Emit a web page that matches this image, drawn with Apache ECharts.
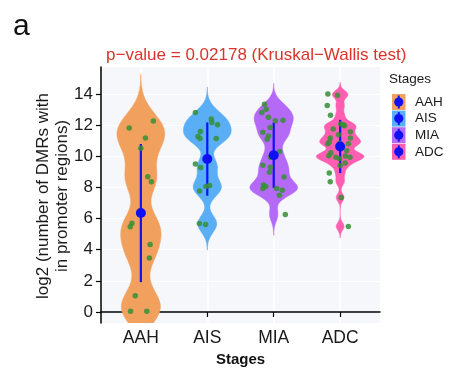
<!DOCTYPE html>
<html><head><meta charset="utf-8">
<script src="https://cdn.jsdelivr.net/npm/echarts@6/dist/echarts.min.js"></script>
<style>html,body{margin:0;padding:0;background:#fff}#c{width:459px;height:378px}</style>
</head><body><div id="c"></div>
<script>
const categories = ['AAH', 'AIS', 'MIA', 'ADC'];
const yTicks = [0, 2, 4, 6, 8, 10, 12, 14];
const titleText = 'p\u2212value = 0.02178 (Kruskal\u2212Wallis test)';

const aahValues = [11.82, 12.27, 11.19, 10.53, 8.69, 8.37, 5.71, 5.48, 4.34, 3.47, 1.05, 0.04, 0.04];
const aahJitter = [-0.175, 0.188, 0.069, 0.0, 0.104, 0.158, -0.134, -0.160, 0.139, 0.128, -0.085, -0.155, 0.090];
const aisValues = [12.82, 12.40, 12.18, 12.03, 11.60, 11.28, 11.15, 11.15, 9.52, 9.29, 8.13, 8.07, 7.77, 5.69, 5.63];
const aisJitter = [-0.179, 0.060, 0.069, 0.154, -0.104, -0.140, -0.110, 0.134, -0.179, -0.100, 0.034, -0.021, -0.115, -0.119, -0.025];
const miaValues = [13.36, 13.04, 12.82, 12.52, 12.29, 12.33, 11.86, 11.56, 11.32, 11.11, 10.31, 9.95, 9.44, 9.31, 8.99, 8.67, 8.16, 8.07, 7.94, 7.94, 7.83, 7.51, 6.27];
const miaJitter = [-0.139, -0.113, -0.179, -0.079, 0.025, 0.140, -0.054, -0.164, -0.079, -0.099, 0.090, -0.049, -0.164, -0.049, -0.064, 0.155, -0.154, -0.119, -0.164, 0.045, 0.130, 0.085, 0.175];
const adcValues = [14.02, 13.94, 13.27, 12.65, 12.09, 12.03, 11.98, 11.77, 11.58, 11.39, 11.19, 11.19, 10.81, 10.92, 10.81, 10.85, 10.36, 10.23, 10.04, 9.95, 10.02, 9.95, 9.85, 9.57, 9.42, 8.93, 8.37, 7.36, 5.50];
const adcJitter = [-0.185, -0.040, -0.194, -0.145, 0.009, 0.049, 0.064, -0.104, 0.154, -0.025, -0.149, 0.154, -0.185, -0.164, 0.124, -0.010, 0.099, -0.140, -0.170, -0.066, 0.079, 0.149, -0.010, 0.075, 0.0, -0.164, -0.149, 0.015, 0.124];

const meanValues = [6.36, 9.83, 10.08, 10.64];
const sdValues = [4.44, 2.36, 2.10, 1.71];

// style / stat parameters
const bandwidths = [1.0, 0.55, 0.45, 0.25];
const colors = ['#F2A05E', '#5AAEF6', '#B46AF6', '#FF5EB1'];
const Y_MIN = -0.71, Y_MAX = 15.75;
const HALF_W = 0.36;

const groupValues = [aahValues, aisValues, miaValues, adcValues];
const groupJitter = [aahJitter, aisJitter, miaJitter, adcJitter];

function kdeProfile(vals, bw) {
  const lo = Math.max(Math.min(...vals) - 3 * bw, Y_MIN);
  const hi = Math.min(Math.max(...vals) + 3 * bw, Y_MAX);
  const n = 200, out = [];
  for (let i = 0; i <= n; i++) {
    const y = lo + (hi - lo) * i / n;
    let d = 0;
    for (const v of vals) { const z = (y - v) / bw; d += Math.exp(-0.5 * z * z); }
    out.push([y, d]);
  }
  const m = Math.max(...out.map(p => p[1]));
  return out.map(p => [p[0], p[1] / m * HALF_W]);
}
const profiles = groupValues.map((v, i) => kdeProfile(v, bandwidths[i]));

const pointSeries = groupValues.map((vals, g) => ({
  type: 'scatter', z: 4,
  data: vals.map((v, i) => [g + 1 + groupJitter[g][i], v]),
  symbolSize: 5.5,
  itemStyle: { color: '#358F35', opacity: 0.85 },
  silent: true
}));

const font = 'Liberation Sans, Arial, sans-serif';
const chart = echarts.init(document.getElementById('c'), null, { renderer: 'canvas' });

const legendGraphics = [];
legendGraphics.push({ type: 'text', left: 389, top: 72, style: { text: 'Stages', font: '13.5px ' + font, fill: '#1a1a1a' } });
categories.forEach((c, i) => {
  const y0 = 94 + i * 16.6;
  legendGraphics.push({ type: 'rect', shape: { x: 392, y: y0, width: 13.5, height: 16 }, style: { fill: colors[i] } });
  legendGraphics.push({ type: 'line', shape: { x1: 398.75, y1: y0 + 1.5, x2: 398.75, y2: y0 + 14.5 }, style: { stroke: '#1010F5', lineWidth: 2 } });
  legendGraphics.push({ type: 'circle', shape: { cx: 398.75, cy: y0 + 8, r: 4.6 }, style: { fill: '#1010F5' } });
  legendGraphics.push({ type: 'text', left: 415, top: y0 + 1, style: { text: c, font: '13.5px ' + font, fill: '#1a1a1a' } });
});

chart.setOption({
  animation: false,
  backgroundColor: '#ffffff',
  textStyle: { fontFamily: font },
  title: {
    text: titleText, left: 101, top: 42,
    textStyle: { color: '#D9342C', fontSize: 17, fontWeight: 'normal', fontFamily: font }
  },
  grid: { left: 101, right: 79, top: 67, bottom: 55, show: true, backgroundColor: '#F5F7FB', borderWidth: 0 },
  xAxis: {
    type: 'value', min: 0.4, max: 4.6,
    name: 'Stages', nameLocation: 'middle', nameGap: 27,
    nameTextStyle: { fontSize: 15, fontWeight: 'bold', color: '#111', fontFamily: font },
    axisLine: { show: true, lineStyle: { color: '#000', width: 1.5 } },
    axisTick: { show: true, length: 5, customValues: [1, 2, 3, 4], lineStyle: { color: '#000', width: 1.2 } },
    axisLabel: { customValues: [1, 2, 3, 4], formatter: v => categories[Math.round(v) - 1], fontSize: 17.5, color: '#1a1a1a', margin: 6, fontFamily: font },
    splitLine: { show: true, lineStyle: { color: '#ffffff', width: 1.5 } }
  },
  yAxis: {
    type: 'value', min: Y_MIN, max: Y_MAX,
    axisLine: { show: true, lineStyle: { color: '#000', width: 1.5 } },
    axisTick: { show: true, length: 5, customValues: yTicks, lineStyle: { color: '#000', width: 1.2 } },
    axisLabel: { customValues: yTicks, fontSize: 17, color: '#1a1a1a', margin: 8, fontFamily: font },
    splitLine: { show: true, lineStyle: { color: '#ffffff', width: 1.2 } }
  },
  graphic: [
    { type: 'text', left: 13, top: 12, style: { text: 'a', font: '30px ' + font, fill: '#111' } },
    { type: 'text', x: 53, y: 196, rotation: Math.PI / 2,
      style: { text: 'log2 (number of DMRs with\nin promoter regions)', font: '17px ' + font, fill: '#1a1a1a', align: 'center', verticalAlign: 'middle', lineHeight: 19 } },
    ...legendGraphics
  ],
  series: [
    {
      type: 'custom', z: 2, clip: true, silent: true,
      data: categories.map((c, i) => [i + 1]),
      renderItem: (params, api) => {
        const g = params.dataIndex, cx = g + 1, prof = profiles[g];
        const right = prof.map(p => api.coord([cx + p[1], p[0]]));
        const left = prof.slice().reverse().map(p => api.coord([cx - p[1], p[0]]));
        return { type: 'polygon', shape: { points: right.concat(left) }, style: { fill: colors[g], stroke: colors[g], lineWidth: 0.5 } };
      }
    },
    {
      type: 'custom', z: 3, silent: true,
      data: categories.map((c, i) => [i + 1, meanValues[i] - sdValues[i], meanValues[i] + sdValues[i]]),
      renderItem: (params, api) => {
        const a = api.coord([api.value(0), api.value(1)]);
        const b = api.coord([api.value(0), api.value(2)]);
        return { type: 'line', shape: { x1: a[0], y1: a[1], x2: b[0], y2: b[1] }, style: { stroke: '#1010F5', lineWidth: 2.2 } };
      }
    },
    ...pointSeries,
    {
      type: 'scatter', z: 5, silent: true,
      data: meanValues.map((m, i) => [i + 1, m]),
      symbolSize: 10,
      itemStyle: { color: '#1010F5', opacity: 1 }
    }
  ]
});
</script></body></html>
